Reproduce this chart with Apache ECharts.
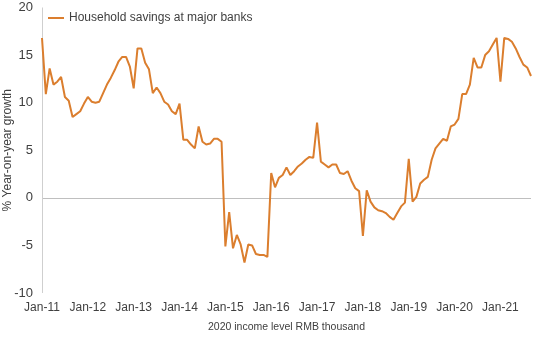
<!DOCTYPE html>
<html>
<head>
<meta charset="utf-8">
<script src="https://cdn.jsdelivr.net/npm/echarts@6/dist/echarts.min.js"></script>
<style>
html,body{margin:0;padding:0;background:#fff;}
#chart{width:545px;height:338px;}
</style>
</head>
<body>
<div id="chart"></div>
<script>
// Monthly categories Jan-11 .. Sep-21
const monthNames = ['Jan','Feb','Mar','Apr','May','Jun','Jul','Aug','Sep','Oct','Nov','Dec'];
const years = ['11','12','13','14','15','16','17','18','19','20','21'];
const lastMonthCount = 9; // data runs to Sep-21

// Household savings at major banks, % year-on-year growth
const savings2011 = [16.8, 10.9, 13.6, 11.9, 12.2, 12.7, 10.6, 10.2, 8.5, 8.8, 9.1, 9.9];
const savings2012 = [10.6, 10.1, 10.0, 10.1, 11.0, 11.9, 12.6, 13.4, 14.3, 14.8, 14.8, 13.8];
const savings2013 = [11.5, 15.7, 15.7, 14.2, 13.5, 11.0, 11.6, 11.0, 10.1, 9.8, 9.1, 8.8];
const savings2014 = [9.9, 6.1, 6.1, 5.6, 5.2, 7.5, 5.9, 5.6, 5.7, 6.2, 6.2, 5.9];
const savings2015 = [-5.1, -1.5, -5.3, -3.9, -4.9, -6.8, -4.9, -5.0, -5.9, -6.0, -6.0, -6.2];
const savings2016 = [2.6, 1.1, 2.1, 2.4, 3.2, 2.4, 2.8, 3.3, 3.6, 4.0, 4.3, 4.2];
const savings2017 = [7.9, 3.8, 3.5, 3.2, 3.5, 3.5, 2.6, 2.5, 2.8, 1.8, 1.0, 0.7];
const savings2018 = [-4.0, 0.8, -0.4, -1.0, -1.3, -1.4, -1.6, -2.0, -2.3, -1.6, -0.9, -0.5];
const savings2019 = [4.1, -0.4, 0.1, 1.5, 1.9, 2.2, 4.0, 5.2, 5.7, 6.2, 6.0, 7.5];
const savings2020 = [7.7, 8.3, 10.9, 10.9, 11.9, 14.7, 13.7, 13.7, 15.0, 15.4, 16.1, 16.8];
const savings2021 = [12.2, 16.8, 16.7, 16.4, 15.7, 14.8, 14.0, 13.7, 12.8];

const yTicks = [-10, -5, 0, 5, 10, 15, 20];

const categories = [];
years.forEach((y, i) => {
  const n = (i === years.length - 1) ? lastMonthCount : 12;
  for (let m = 0; m < n; m++) categories.push(monthNames[m] + '-' + y);
});
const values = [].concat(savings2011, savings2012, savings2013, savings2014, savings2015,
  savings2016, savings2017, savings2018, savings2019, savings2020, savings2021);

const FONT = '"Liberation Sans", Arial, sans-serif';
const TXT = '#404040';
const LINE = '#DB7E2E';

const chart = echarts.init(document.getElementById('chart'), null, {renderer: 'canvas'});
chart.setOption({
  animation: false,
  backgroundColor: '#ffffff',
  textStyle: {fontFamily: FONT},
  grid: {left: 42, right: 14, top: 7.5, bottom: 45, containLabel: false, outerBoundsMode: 'none'},
  legend: {
    data: ['Household savings at major banks'],
    left: 48, top: 12, padding: 0,
    icon: 'rect', itemWidth: 16, itemHeight: 2,
    textStyle: {fontFamily: FONT, fontSize: 12, color: TXT}
  },
  xAxis: {
    type: 'category',
    data: categories,
    boundaryGap: false,
    name: '2020 income level RMB thousand',
    nameLocation: 'middle',
    nameGap: 29,
    nameMoveOverlap: false,
    nameTextStyle: {fontFamily: FONT, fontSize: 10.5, color: TXT},
    axisLine: {show: false, onZero: false},
    axisTick: {show: false},
    splitLine: {show: false},
    axisLabel: {interval: 11, margin: 9, fontFamily: FONT, fontSize: 12, color: TXT}
  },
  yAxis: {
    type: 'value',
    min: yTicks[0], max: yTicks[yTicks.length - 1], interval: 5,
    name: '% Year-on-year growth',
    nameLocation: 'middle',
    nameGap: 28,
    nameMoveOverlap: false,
    nameRotate: 90,
    nameTextStyle: {fontFamily: FONT, fontSize: 12, color: TXT},
    axisLine: {show: false},
    axisTick: {show: false},
    splitLine: {show: false},
    axisLabel: {margin: 9, fontFamily: FONT, fontSize: 13, color: TXT}
  },
  series: [{
    name: 'Household savings at major banks',
    type: 'line',
    data: values,
    symbol: 'none',
    lineStyle: {color: LINE, width: 2},
    itemStyle: {color: LINE},
    markLine: {
      silent: true,
      symbol: 'none',
      label: {show: false},
      lineStyle: {color: '#bfbfbf', width: 1, type: 'solid'},
      data: [
        {yAxis: 0},
        {xAxis: categories[0], lineStyle: {color: '#cfcfcf'}}
      ],
      z: 1
    },
    z: 3
  }]
});
</script>
</body>
</html>
